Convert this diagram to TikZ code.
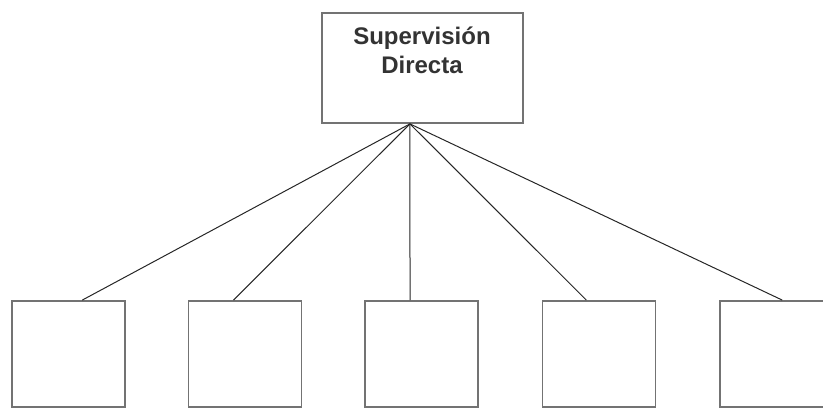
\documentclass[tikz,border=0pt]{standalone}
\usepackage{fontspec}
\setmainfont{Liberation Sans}
\usetikzlibrary{calc}
\tikzset{
  boxframe/.style={draw=black!55, line width=1.8pt, fill=white, inner sep=0pt},
  topbox/.style={boxframe, minimum width=201pt, minimum height=110pt},
  subbox/.style={boxframe, minimum width=113pt, minimum height=106pt},
  link/.style={draw=black!85, line width=1pt},
  title/.style={font=\fontsize{24pt}{29pt}\selectfont\bfseries, text=black!80, align=center, inner sep=0pt}
}
\begin{document}
\begin{tikzpicture}[x=1pt,y=-1pt]
\useasboundingbox (0,0) rectangle (823,409);
\node[topbox] (top) at (422.5,68) {};
\node[title, anchor=base] (toptxt) at (422,74) {Supervisión\\Directa};
\node[subbox] (b1) at (68.5,354) {};
\node[subbox] (b2) at (245,354) {};
\node[subbox] (b3) at (421.5,354) {};
\node[subbox] (b4) at (599,354) {};
\node[subbox] (b5) at (776.5,354) {};
\coordinate (j) at ($(top.south west)!0.438!(top.south east)$);
\draw[link] (j) -- ($(b1.north west)!0.62!(b1.north east)$);
\draw[link] (j) -- ($(b2.north west)!0.40!(b2.north east)$);
\draw[link] (j) -- ($(b3.north west)!0.40!(b3.north east)$);
\draw[link] (j) -- ($(b4.north west)!0.39!(b4.north east)$);
\draw[link] (j) -- ($(b5.north west)!0.55!(b5.north east)$);
\end{tikzpicture}
\end{document}
